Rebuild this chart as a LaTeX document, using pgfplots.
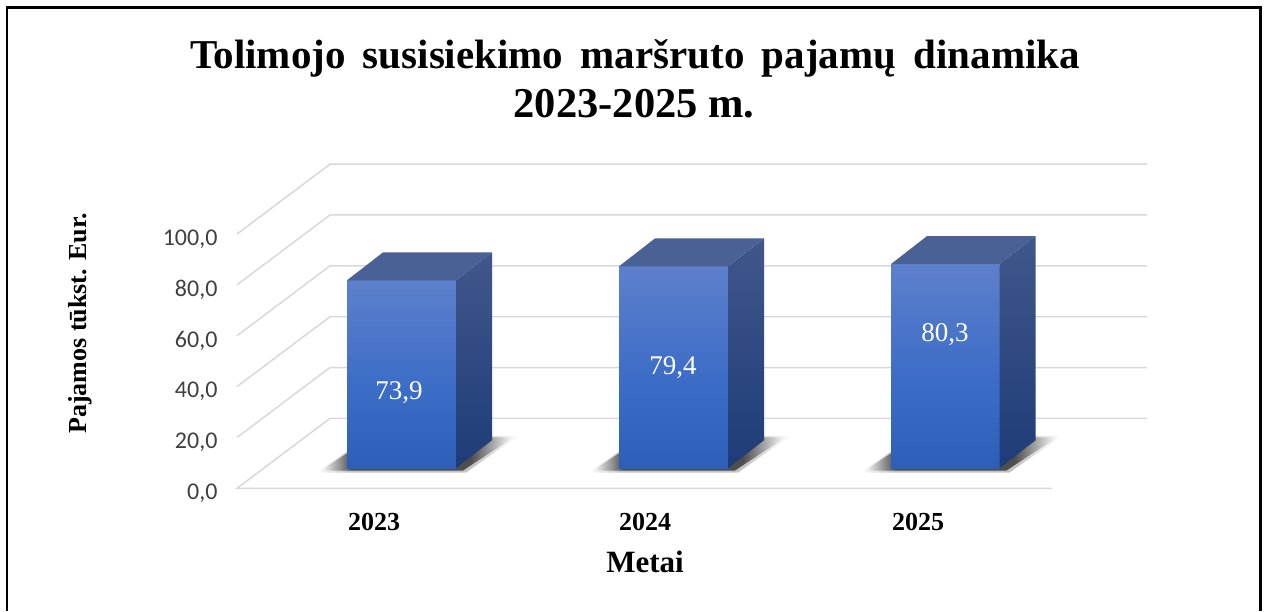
\documentclass[border=0pt]{standalone}
\usepackage{fontspec}
\setmainfont{Liberation Serif}
\newfontfamily\carlito{Carlito}
\usepackage{pgfplots}
\pgfplotsset{compat=1.18}
\definecolor{gridc}{HTML}{D9D9D9}
\definecolor{ticktext}{HTML}{404040}
\definecolor{topface}{HTML}{4A6196}
\definecolor{ffb}{HTML}{2E5FB8}
\definecolor{ffm}{HTML}{3B6CC6}
\definecolor{fft}{HTML}{5D80CC}
\definecolor{sdb}{HTML}{1E3C78}
\definecolor{sdt}{HTML}{40578A}
\definecolor{shc}{HTML}{3A3A3A}
\pgfdeclareverticalshading{barfrontb}{100bp}{
  color(0bp)=(ffb); color(25bp)=(ffb); color(46bp)=(ffm); color(75bp)=(fft); color(100bp)=(fft)}
\pgfdeclarehorizontalshading{floorshadow}{100bp}{
  color(0bp)=(white); color(25bp)=(white); color(33bp)=(shc); color(64bp)=(shc); color(75bp)=(white); color(100bp)=(white)}
\newcommand{\threedbar}[3]{%
  \pgfmathsetmacro{\bartop}{#3+7.9}%
  \pgfmathsetmacro{\barback}{#3+18.9}%
  \pgfmathsetmacro{\rx}{#2+36}%
  \pgfmathsetmacro{\lx}{#1+36}%
  \pgfmathsetmacro{\shl}{#1-26}%
  \pgfmathsetmacro{\shr}{#2+7}%
  \pgfmathsetmacro{\shtl}{#1+24}%
  \pgfmathsetmacro{\shtr}{#2+57}%
  \pgfmathsetmacro{\shlb}{#1-30}%
  \pgfmathsetmacro{\shrb}{#2+10}%
  \pgfmathsetmacro{\shtlb}{#1+22}%
  \pgfmathsetmacro{\shtrb}{#2+62}%
  \addplot[shade, shading=floorshadow, draw=none, opacity=0.3, forget plot] coordinates {(\shlb,6.2)(\shrb,6.2)(\shtrb,20.6)(\shtlb,20.6)} --cycle;
  \addplot[shade, shading=floorshadow, draw=none, opacity=0.85, forget plot] coordinates {(\shl,7.0)(\shr,7.0)(\shtr,20)(\shtl,20)} --cycle;
  \addplot[shade, shading=barfrontb, draw=none, forget plot] coordinates {(#1,7.9)(#1,\bartop)(#2,\bartop)(#2,7.9)} --cycle;
  \addplot[shade, top color=sdt, bottom color=sdb, draw=none, forget plot] coordinates {(#2,7.9)(#2,\bartop)(\rx,\barback)(\rx,18.9)} --cycle;
  \addplot[fill=topface, draw=none, forget plot] coordinates {(#1,\bartop)(#2,\bartop)(\rx,\barback)(\lx,\barback)} --cycle;
}
\begin{document}
\begin{tikzpicture}
\useasboundingbox (0pt,0pt) rectangle (1267pt,611pt);
\fill[white] (0pt,0pt) rectangle (1267pt,611pt);
\draw[black, line width=2.6pt] (6.8pt,0pt) -- (6.8pt,603.7pt) -- (1260.2pt,603.7pt) -- (1260.2pt,0pt);
\begin{axis}[
  at={(230pt,122.7pt)}, anchor=south west,
  scale only axis, width=920pt, height=330.525pt,
  xmin=230, xmax=1150, ymin=0, ymax=130,
  clip=false,
  axis line style={draw=none},
  tick style={draw=none},
  major tick length=0pt,
  ytick={0,20,40,60,80,100},
  /pgf/number format/.cd, use comma, fixed, fixed zerofill, precision=1, assume math mode=true, /pgfplots/.cd,
  yticklabel style={font=\carlito\fontsize{24}{28}\selectfont, text=ticktext, xshift=-9pt, yshift=-5pt},
  xtick={374,645,918},
  xticklabels={2023,2024,2025},
  xticklabel style={font=\bfseries\fontsize{26}{30}\selectfont, text=black, yshift=-21pt},
]
% floor and walls
\addplot[gridc, line width=1.5pt, forget plot] coordinates {(1052,0)(237,0)(330,27.5)(1147,27.5)};
\addplot[gridc, line width=1.5pt, forget plot] coordinates {(237,20)(330,47.5)(1147,47.5)};
\addplot[gridc, line width=1.5pt, forget plot] coordinates {(237,40)(330,67.5)(1147,67.5)};
\addplot[gridc, line width=1.5pt, forget plot] coordinates {(237,60)(330,87.5)(1147,87.5)};
\addplot[gridc, line width=1.5pt, forget plot] coordinates {(237,80)(330,107.5)(1147,107.5)};
\addplot[gridc, line width=1.5pt, forget plot] coordinates {(237,100)(330,127.5)(1147,127.5)};
% bars
\threedbar{347}{456}{73.9}
\threedbar{619}{728}{79.4}
\threedbar{891}{999.5}{80.3}
% value labels
\node[text=white, font=\fontsize{27}{30}\selectfont] at (axis cs:399,37.5) {73,9};
\node[text=white, font=\fontsize{27}{30}\selectfont] at (axis cs:673,47.3) {79,4};
\node[text=white, font=\fontsize{27}{30}\selectfont] at (axis cs:945,60.3) {80,3};
% axis titles
\node[font=\bfseries\fontsize{31}{34}\selectfont] at (axis cs:645,-29) {Metai};
\node[rotate=90, font=\bfseries\fontsize{26}{30}\selectfont] at (axis cs:80,64.9) {Pajamos tūkst. Eur.};
% title
\node[font=\bfseries\fontsize{41}{48}\selectfont, inner sep=0pt] at (axis cs:635,169) {\hbox to 890pt{Tolimojo\hfill susisiekimo\hfill maršruto\hfill pajamų\hfill dinamika}};
\node[font=\bfseries\fontsize{42.5}{48}\selectfont, inner sep=0pt] at (axis cs:634,151.2) {2023-2025 m.};
\end{axis}
\end{tikzpicture}
\end{document}
